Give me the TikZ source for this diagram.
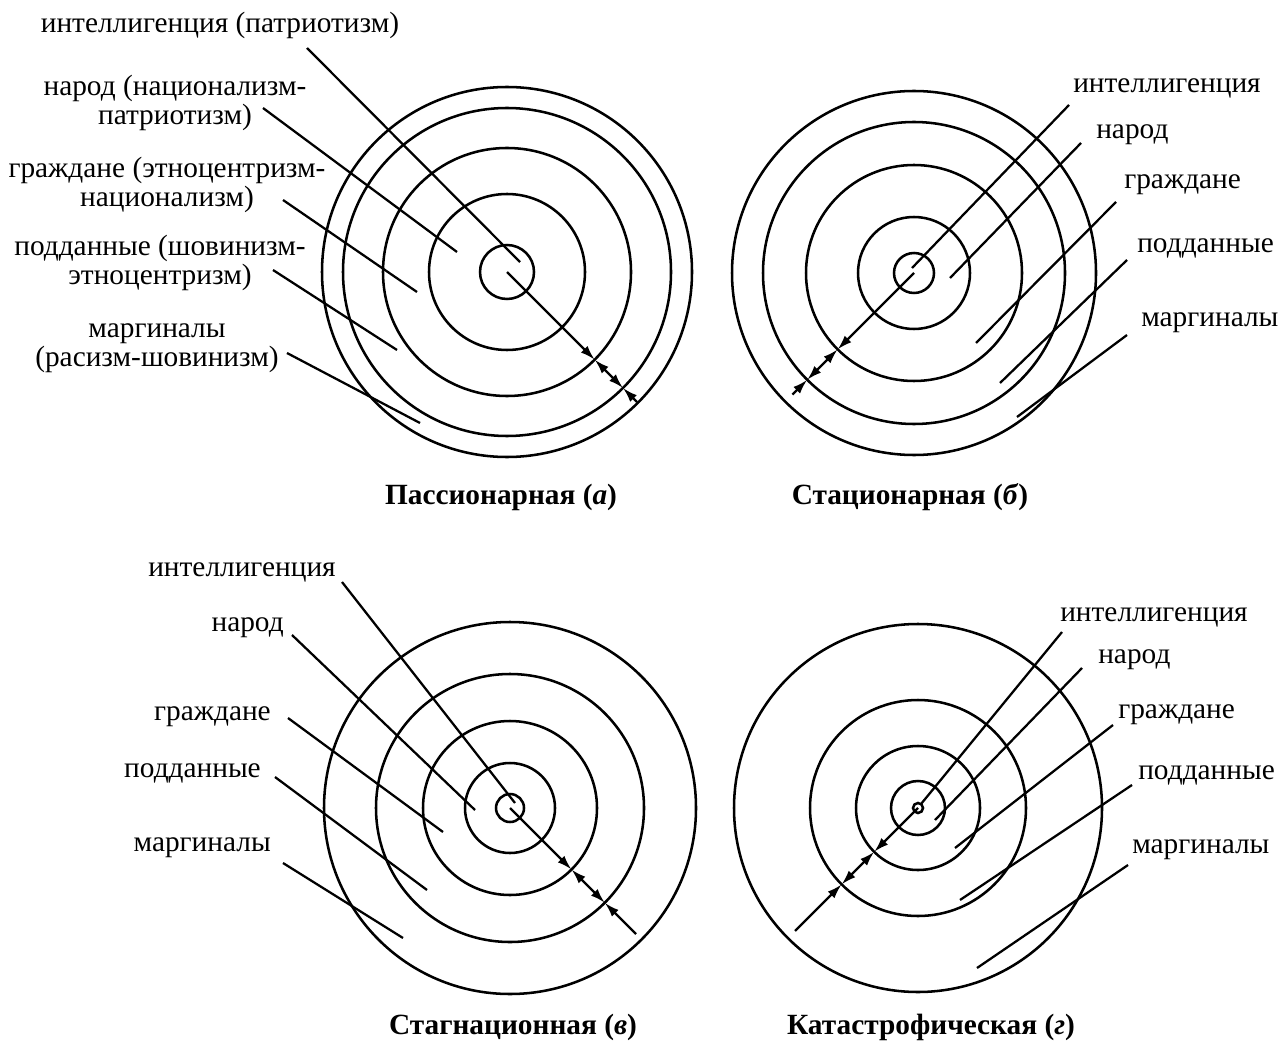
\documentclass[tikz,border=0pt]{standalone}
\usepackage{fontspec}
\setmainfont{Liberation Serif}
\usetikzlibrary{arrows.meta}
\begin{document}
\begin{tikzpicture}[x=0.75pt,y=-0.75pt,
  ring/.style={line width=1.9pt},
  lead/.style={line width=1.7pt},
  dim/.style={line width=1.7pt},
  lbl/.style={font=\fontsize{22}{21.75}\selectfont, inner sep=0pt, align=center},
  ttl/.style={font=\fontsize{22}{24}\selectfont\bfseries, inner sep=0pt},
  >={Latex[length=11pt,width=7pt]}]
\useasboundingbox (0,0) rectangle (1287,1048);

% ---------- (a) ----------
\coordinate (ca) at (507,272);
\foreach \r in {27,78,124,164,185} \draw[ring] (ca) circle [radius=\r];
\coordinate (a3) at (594.7,359.7);
\coordinate (a4) at (623,388);
\coordinate (a5) at (637,402);
\draw[dim,->] (ca) -- (a3);
\draw[dim,<->] (a3) -- (a4);
\draw[dim,->] (a5) -- (a4);

\node[lbl] (ta1) at (220,25) {интеллигенция (патриотизм)};
\node[lbl] (ta2) at (175,103) {народ (национализм-\\патриотизм)};
\node[lbl] (ta3) at (167,185) {граждане (этноцентризм-\\национализм)};
\node[lbl] (ta4) at (160,263) {подданные (шовинизм-\\этноцентризм)};
\node[lbl] (ta5) at (157,348) {маргиналы\\(расизм-шовинизм)};
\coordinate (sa1) at (307,48);  \coordinate (ea1) at (520,262);
\coordinate (sa2) at (263,108); \coordinate (ea2) at (457,252);
\coordinate (sa3) at (283,200); \coordinate (ea3) at (417,292);
\coordinate (sa4) at (273,270); \coordinate (ea4) at (397,350);
\coordinate (sa5) at (287,353); \coordinate (ea5) at (420,423);
\foreach \i in {1,...,5} \draw[lead] (sa\i) -- (ea\i);
\node[ttl] (tta) at (501,497) {Пассионарная (\textit{а})};

% ---------- (b) ----------
\coordinate (cb) at (914,273);
\foreach \r in {20,56,108,151,182} \draw[ring] (cb) circle [radius=\r];
\coordinate (b3) at (837.6,349.4);
\coordinate (b4) at (807.2,379.8);
\coordinate (b5) at (792.4,394.6);
\draw[dim,->] (cb) -- (b3);
\draw[dim,<->] (b3) -- (b4);
\draw[dim,->] (b5) -- (b4);

\node[lbl,anchor=west] (tb1) at (1073,88) {интеллигенция};
\node[lbl,anchor=west] (tb2) at (1096,135) {народ};
\node[lbl,anchor=west] (tb3) at (1124,185) {граждане};
\node[lbl,anchor=west] (tb4) at (1137,248) {подданные};
\node[lbl,anchor=west] (tb5) at (1141,323) {маргиналы};
\coordinate (sb1) at (1069,105); \coordinate (eb1) at (912,268);
\coordinate (sb2) at (1081,143); \coordinate (eb2) at (950,278);
\coordinate (sb3) at (1116,202); \coordinate (eb3) at (976,343);
\coordinate (sb4) at (1127,260); \coordinate (eb4) at (1000,383);
\coordinate (sb5) at (1127,335); \coordinate (eb5) at (1017,417);
\foreach \i in {1,...,5} \draw[lead] (sb\i) -- (eb\i);
\node[ttl] (ttb) at (910,497) {Стационарная (\textit{б})};

% ---------- (v) ----------
\coordinate (cv) at (510,808);
\foreach \r in {14,45,87,134,186} \draw[ring] (cv) circle [radius=\r];
\coordinate (v3) at (571.5,869.5);
\coordinate (v4) at (604.8,902.8);
\coordinate (v5) at (636,934);
\draw[dim,->] (cv) -- (v3);
\draw[dim,<->] (v3) -- (v4);
\draw[dim,->] (v5) -- (v4);

\node[lbl,anchor=east] (tv1) at (336,572) {интеллигенция};
\node[lbl,anchor=east] (tv2) at (284,628) {народ};
\node[lbl,anchor=east] (tv3) at (271,717) {граждане};
\node[lbl,anchor=east] (tv4) at (261,773) {подданные};
\node[lbl,anchor=east] (tv5) at (271,848) {маргиналы};
\coordinate (sv1) at (342,582); \coordinate (ev1) at (515,803);
\coordinate (sv2) at (292,635); \coordinate (ev2) at (475,810);
\coordinate (sv3) at (288,718); \coordinate (ev3) at (443,832);
\coordinate (sv4) at (275,777); \coordinate (ev4) at (427,890);
\coordinate (sv5) at (283,863); \coordinate (ev5) at (403,938);
\foreach \i in {1,...,5} \draw[lead] (sv\i) -- (ev\i);
\node[ttl] (ttv) at (513,1027) {Стагнационная (\textit{в})};

% ---------- (g) ----------
\coordinate (cg) at (918,808);
\foreach \r in {5,27,62,108,184} \draw[ring] (cg) circle [radius=\r];
\coordinate (g3) at (874.2,851.8);
\coordinate (g4) at (841.6,884.4);
\coordinate (g5) at (795,931);
\draw[dim,->] (cg) -- (g3);
\draw[dim,<->] (g3) -- (g4);
\draw[dim,->] (g5) -- (g4);

\node[lbl,anchor=west] (tg1) at (1060,617) {интеллигенция};
\node[lbl,anchor=west] (tg2) at (1098,660) {народ};
\node[lbl,anchor=west] (tg3) at (1118,715) {граждане};
\node[lbl,anchor=west] (tg4) at (1138,775) {подданные};
\node[lbl,anchor=west] (tg5) at (1132,850) {маргиналы};
\coordinate (sg1) at (1062,632); \coordinate (eg1) at (921,804);
\coordinate (sg2) at (1082,668); \coordinate (eg2) at (935,820);
\coordinate (sg3) at (1113,725); \coordinate (eg3) at (955,848);
\coordinate (sg4) at (1132,785); \coordinate (eg4) at (960,900);
\coordinate (sg5) at (1128,865); \coordinate (eg5) at (977,968);
\foreach \i in {1,...,5} \draw[lead] (sg\i) -- (eg\i);
\node[ttl] (ttg) at (931,1027) {Катастрофическая (\textit{г})};
\end{tikzpicture}
\end{document}
